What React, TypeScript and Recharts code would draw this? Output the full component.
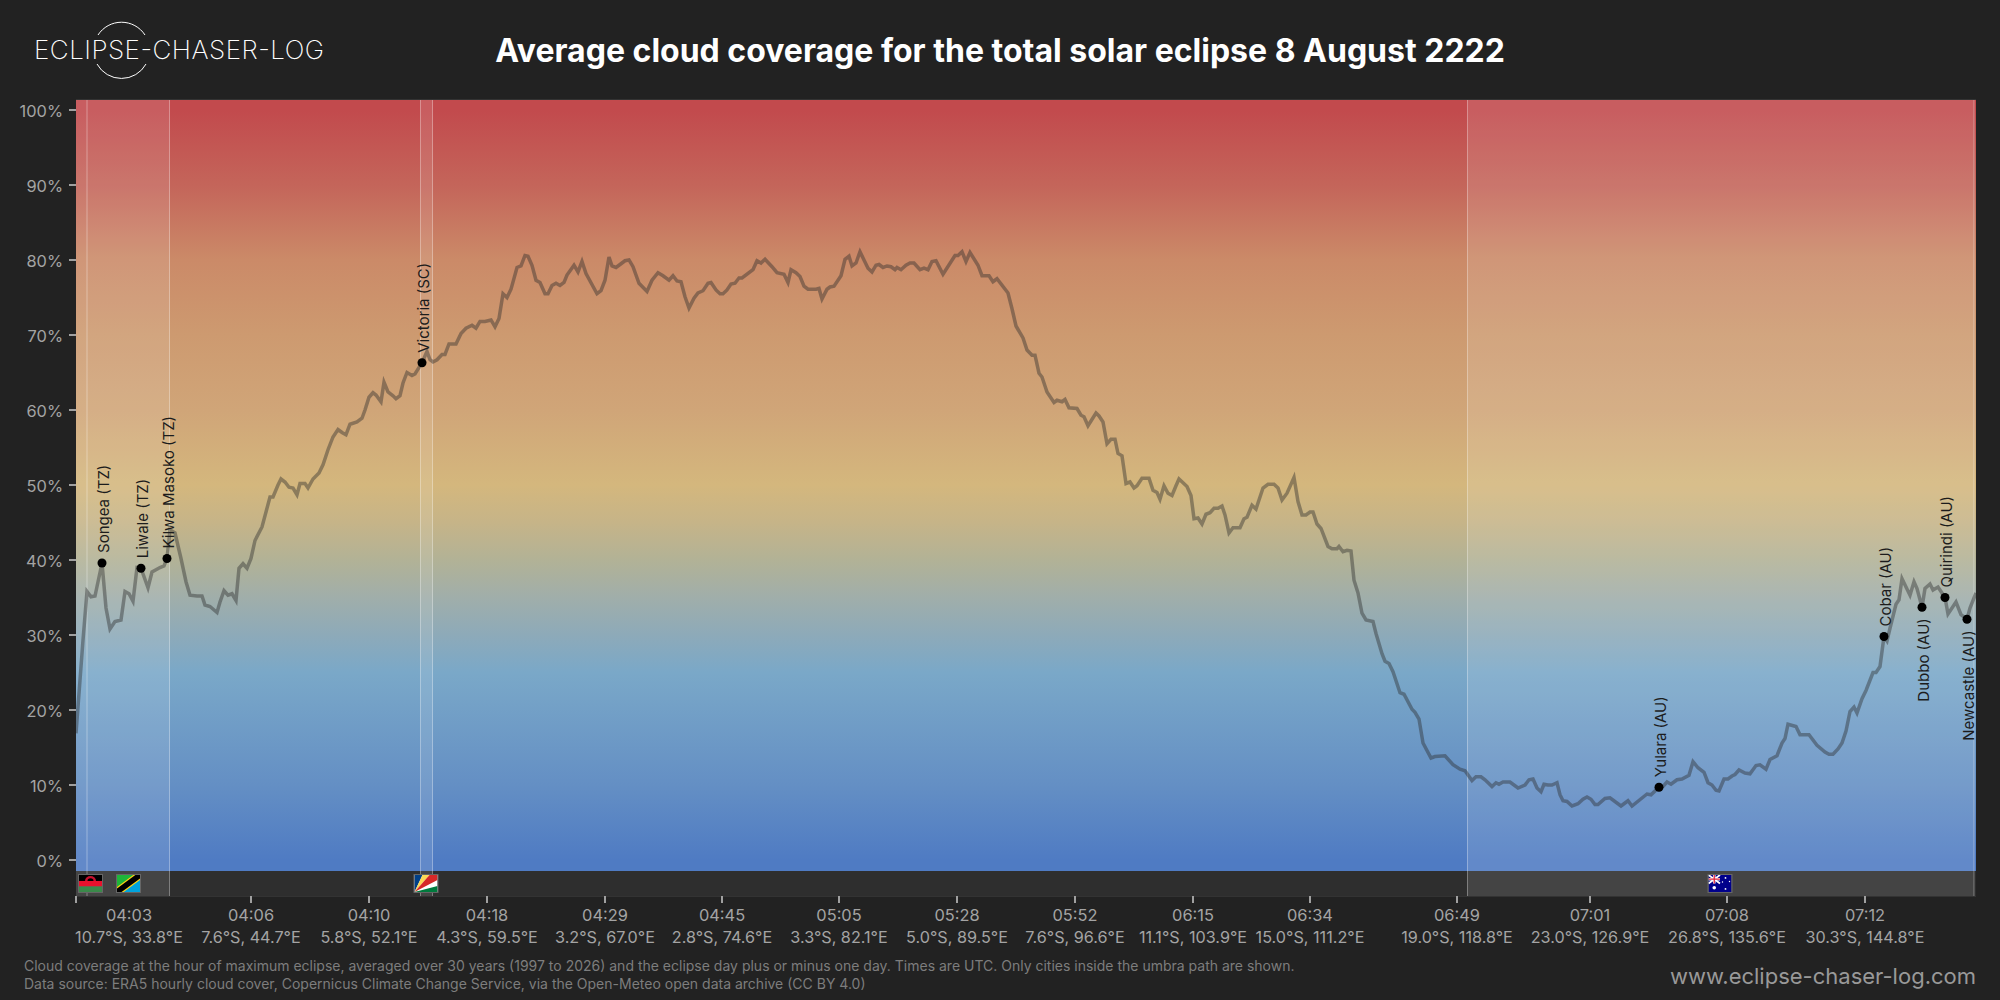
import React from "react";
import {
  CartesianGrid,
  ComposedChart,
  Line,
  ReferenceArea,
  ReferenceDot,
  ReferenceLine,
  Scatter,
  XAxis,
  YAxis,
} from "recharts";

const FONT = "Inter, 'Noto Sans', sans-serif";

// position along the eclipse track (arbitrary units, 0 = start of the plot)
const trackPos = [
  0, 7, 11, 15, 19, 26, 30, 34, 39, 45, 49, 53, 57, 61, 65, 72, 76, 80, 84, 88, 91, 94, 99, 105, 110, 114, 121, 126, 129, 134,
  141, 144, 148, 152, 156, 160, 163, 167, 171, 175, 179, 186, 194, 197, 202, 205, 209, 213, 217, 221, 224, 229, 232, 237, 243, 247, 252, 257, 262, 266,
  270, 274, 281, 286, 289, 293, 297, 300, 305, 308, 312, 317, 320, 324, 327, 331, 336, 339, 346, 351, 354, 357, 361, 366, 369, 373, 380, 385, 390, 396,
  400, 404, 409, 415, 419, 423, 427, 431, 435, 441, 445, 449, 452, 456, 460, 464, 469, 472, 476, 480, 484, 488, 491, 498, 502, 506, 510, 521, 525, 529,
  533, 536, 540, 545, 549, 553, 557, 563, 571, 576, 582, 587, 593, 597, 601, 605, 609, 613, 618, 622, 627, 632, 635, 640, 644, 647, 651, 655, 659, 663,
  666, 677, 681, 685, 689, 696, 701, 708, 712, 715, 720, 724, 728, 732, 740, 743, 746, 751, 754, 758, 765, 769, 773, 776, 780, 784, 788, 792, 796, 800,
  803, 807, 811, 815, 819, 821, 825, 830, 834, 838, 844, 848, 852, 856, 860, 867, 879, 882, 886, 890, 894, 902, 906, 913, 917, 921, 932, 936, 940, 947,
  951, 956, 959, 963, 966, 971, 978, 981, 986, 989, 993, 1001, 1005, 1008, 1012, 1020, 1023, 1027, 1031, 1035, 1039, 1042, 1046, 1050, 1054, 1058, 1061, 1066, 1073, 1077,
  1081, 1084, 1088, 1092, 1096, 1100, 1103, 1111, 1115, 1118, 1122, 1126, 1130, 1134, 1138, 1142, 1146, 1149, 1153, 1157, 1164, 1168, 1171, 1176, 1180, 1183, 1187, 1192, 1198, 1202,
  1206, 1211, 1218, 1222, 1226, 1230, 1234, 1237, 1241, 1245, 1252, 1256, 1261, 1263, 1267, 1271, 1275, 1278, 1282, 1286, 1290, 1297, 1300, 1306, 1309, 1313, 1317, 1324, 1328, 1336,
  1339, 1343, 1347, 1355, 1359, 1369, 1377, 1384, 1389, 1396, 1400, 1405, 1409, 1416, 1420, 1423, 1427, 1434, 1442, 1449, 1453, 1457, 1461, 1465, 1468, 1472, 1476, 1481, 1484, 1487,
  1491, 1496, 1502, 1507, 1511, 1515, 1519, 1522, 1529, 1534, 1545, 1552, 1556, 1571, 1575, 1583, 1587, 1591, 1595, 1601, 1606, 1613, 1617, 1622, 1628, 1632, 1636, 1640, 1643, 1648,
  1652, 1656, 1659, 1663, 1669, 1674, 1680, 1684, 1690, 1694, 1701, 1706, 1709, 1712, 1720, 1724, 1733, 1741, 1749, 1753, 1757, 1762, 1766, 1770, 1774, 1778, 1781, 1786, 1790, 1797,
  1800, 1804, 1808, 1811, 1814, 1820, 1823, 1826, 1834, 1838, 1841, 1846, 1849, 1854, 1857, 1862, 1869, 1872, 1880, 1885, 1891, 1894, 1900,
];

const cloudCover = [
  16.9, 29.3, 35.8, 35.1, 35.2, 39.6, 33.6, 30.8, 31.8, 32, 35.8, 35.5, 34.5, 39, 38.9, 36.3, 38.4, 38.7, 39, 39.2, 40.2, 44, 43.6, 40.2, 37.1, 35.3, 35.2, 35.2, 34, 33.8,
  33, 34.4, 35.9, 35.3, 35.5, 34.6, 38.9, 39.5, 38.9, 40.2, 42.6, 44.4, 48.4, 48.4, 50, 50.8, 50.4, 49.7, 49.6, 48.7, 50.2, 50.2, 49.6, 50.8, 51.6, 52.7, 54.7, 56.4, 57.4, 57,
  56.7, 58.1, 58.4, 58.9, 60, 61.7, 62.3, 62, 61.1, 63.7, 62.4, 61.9, 61.5, 61.9, 63.6, 65, 64.6, 64.8, 66.3, 67.8, 66.7, 66.4, 66.7, 67.4, 67.4, 68.8, 68.8, 70.2, 70.9, 71.3,
  70.9, 71.8, 71.8, 72, 71.1, 72.2, 75.5, 75, 76.1, 79, 79.2, 80.6, 80.5, 79.3, 77.3, 77, 75.5, 75.5, 76.6, 76.9, 76.6, 77, 78, 79.3, 78.4, 79.8, 78.2, 75.5, 75.9, 77.3,
  80.4, 79.2, 79, 79.5, 79.9, 80, 79.1, 76.9, 75.8, 77.3, 78.3, 77.9, 77.3, 77.9, 77.2, 77.1, 75.1, 73.6, 74.9, 75.6, 75.9, 76.9, 77, 76, 75.5, 75.5, 76, 76.8, 76.9, 77.6,
  77.6, 78.7, 79.9, 79.6, 80.1, 79.1, 78.3, 78.1, 77, 78.7, 78.3, 77.8, 76.5, 76.1, 76.1, 76.2, 74.8, 76.1, 76.4, 76.5, 77.9, 80.1, 80.5, 79.2, 79.6, 81.1, 80, 78.9, 78.4, 79.3,
  79.4, 79, 79.2, 79.1, 78.7, 79, 78.7, 79.3, 79.6, 79.6, 78.7, 78.9, 78.7, 79.8, 79.9, 78.1, 80.6, 80.6, 81.1, 79.8, 81, 79.3, 77.9, 77.9, 77.1, 77.5, 75.6, 73.5, 71.2, 69.6,
  68, 67.3, 67.3, 64.9, 64.4, 62.4, 61, 61.3, 61.1, 61.4, 60.3, 60.2, 59.3, 59.1, 57.9, 59.6, 59.2, 58.4, 55.5, 56.1, 56.1, 54.2, 53.9, 50.2, 50.4, 49.6, 49.9, 50.9, 50.9, 49.3,
  49, 48.1, 49.9, 48.9, 48.6, 49.9, 50.8, 49.8, 48.6, 45.5, 45.6, 44.8, 46.1, 46.3, 46.9, 46.9, 47.2, 46, 43.6, 44.3, 44.3, 45.5, 45.7, 47.3, 46.8, 48, 49.6, 50.1, 50.1, 49.6,
  48, 48.9, 51, 47.8, 46, 46, 46.4, 46.4, 44.8, 44.2, 41.8, 41.5, 41.5, 41.8, 41.1, 41.3, 41.2, 37.3, 35.6, 32.9, 32, 31.8, 30.2, 27.5, 26.5, 26.2, 25.1, 22.3, 22.1, 20.1,
  19.7, 18.8, 15.6, 13.6, 13.8, 13.9, 12.7, 12.1, 11.9, 10.6, 11.1, 11.1, 10.7, 9.8, 10.3, 10.1, 10.4, 10.4, 9.6, 10, 10.7, 10.8, 9.6, 9.1, 10.1, 10, 10, 10.3, 8.7, 7.9,
  7.8, 7.2, 7.5, 8.1, 8.4, 8.1, 7.4, 7.4, 8.2, 8.3, 7.2, 7.9, 7.2, 8.8, 8.7, 9.7, 9.8, 10.4, 10.1, 10.7, 10.8, 11.3, 13.1, 12.3, 11.7, 10.3, 10, 9.3, 9.2, 10.8,
  10.8, 11.2, 11.4, 12, 11.6, 11.5, 12.6, 12.7, 12.1, 13.4, 13.9, 15.6, 16.2, 18.1, 17.8, 16.7, 16.7, 15.3, 14.4, 14.1, 14.1, 14.8, 15.6, 17.2, 19.8, 20.4, 19.6, 21.5, 22.6, 25,
  25, 25.8, 29.8, 29.2, 30.9, 34.1, 34.7, 37.5, 35.3, 37.1, 36.2, 33.7, 36.2, 36.8, 36, 36.4, 35, 32.8, 34.4, 32.7, 32.1, 33.6, 35.6,
];

const cityNames = ["Songea (TZ)", "Liwale (TZ)", "Kilwa Masoko (TZ)", "Victoria (SC)", "Yulara (AU)", "Cobar (AU)", "Dubbo (AU)", "Quirindi (AU)", "Newcastle (AU)"];
const cityPos = [26, 65, 91, 346, 1583, 1808, 1846, 1869, 1891];
const cityCover = [39.6, 38.9, 40.2, 66.3, 9.7, 29.8, 33.7, 35, 32.1];
const citiesLabelledBelow = ["Dubbo (AU)", "Newcastle (AU)"];

const tickPos = [0, 175, 293, 411, 529, 646, 763, 881, 999, 1117, 1234, 1381, 1514, 1651, 1789];
const tickTimes = ["04:03", "04:06", "04:10", "04:18", "04:29", "04:45", "05:05", "05:28", "05:52", "06:15", "06:34", "06:49", "07:01", "07:08", "07:12"];
const tickCoords = [
  "10.7°S, 33.8°E", "7.6°S, 44.7°E", "5.8°S, 52.1°E", "4.3°S, 59.5°E", "3.2°S, 67.0°E", "2.8°S, 74.6°E", "3.3°S, 82.1°E", "5.0°S, 89.5°E",
  "7.6°S, 96.6°E", "11.1°S, 103.9°E", "15.0°S, 111.2°E", "19.0°S, 118.8°E", "23.0°S, 126.9°E", "26.8°S, 135.6°E", "30.3°S, 144.8°E",
];
const yTicks = [0, 10, 20, 30, 40, 50, 60, 70, 80, 90, 100];

const landFrom = [0, 344.5, 1391.5];
const landTo = [93.5, 356.5, 1898];
const borderLines = [11, 93.5, 344.5, 356.5, 1391.5, 1898];
const flagCodes = ["MW", "TZ", "SC", "AU"];
const flagPos = [14.5, 52.5, 350, 1644];

const coverStops: [number, string][] = [
  [100, "#c24a4d"],
  [90, "#c4655a"],
  [80, "#cb8a68"],
  [70, "#cd9a70"],
  [60, "#d0a578"],
  [50, "#d4b77d"],
  [45, "#c6b488"],
  [40, "#b2b296"],
  [35, "#a0aeaa"],
  [30, "#8daab9"],
  [25, "#7aa8c8"],
  [10, "#648fc4"],
  [0, "#4f7bc3"],
];

const Y_TOP = 101.33;
const Y_PLOT_BOTTOM = -1.47;
const Y_BAND_BOTTOM = -4.8;

const lineData = trackPos.map((x, i) => ({ x, v: cloudCover[i] }));
const cityData = cityNames.map((name, i) => ({ name, x: cityPos[i], v: cityCover[i] }));

function Flag({ cx, cy, code }: any) {
  const w = 23;
  const h = 17;
  const x = cx - w / 2;
  const y = cy - h / 2;
  const clip = `flag-${code}`;
  return (
    <g>
      <rect x={x - 1} y={y - 1} width={w + 2} height={h + 2} fill="#666" />
      <clipPath id={clip}>
        <rect x={x} y={y} width={w} height={h} />
      </clipPath>
      <g clipPath={`url(#${clip})`}>
        {code === "MW" && (
          <>
            <rect x={x} y={y} width={w} height={6} fill="#000" />
            <rect x={x} y={y + 6} width={w} height={5.5} fill="#e8112d" />
            <rect x={x} y={y + 11.5} width={w} height={5.5} fill="#3a8a4a" />
            <path d={`M${x + 6} ${y + 6}a5.5 5 0 0 1 11 0z`} fill="#c8102e" />
            <path d={`M${x + 8.5} ${y + 6}a3 2.6 0 0 1 6 0z`} fill="#000" />
          </>
        )}
        {code === "TZ" && (
          <>
            <rect x={x} y={y} width={w} height={h} fill="#1eb53a" />
            <path d={`M${x + w} ${y}V${y + h}H${x}z`} fill="#00a3dd" />
            <path d={`M${x} ${y + h}L${x + w} ${y}`} stroke="#fcd116" strokeWidth={8} />
            <path d={`M${x} ${y + h}L${x + w} ${y}`} stroke="#000" strokeWidth={5.5} />
          </>
        )}
        {code === "SC" && (
          <>
            <rect x={x} y={y} width={w} height={h} fill="#fff" />
            <path d={`M${x} ${y + h}V${y}H${x + 8}z`} fill="#003f87" />
            <path d={`M${x} ${y + h}L${x + 8} ${y}H${x + 15}z`} fill="#fcd856" />
            <path d={`M${x} ${y + h}L${x + 15} ${y}H${x + w}V${y + 5}z`} fill="#d62828" />
            <path d={`M${x} ${y + h}H${x + w}V${y + 11}z`} fill="#007a3d" />
          </>
        )}
        {code === "AU" && (
          <>
            <rect x={x} y={y} width={w} height={h} fill="#00008b" />
            <path d={`M${x} ${y}L${x + 11.5} ${y + 8.5}M${x + 11.5} ${y}L${x} ${y + 8.5}`} stroke="#fff" strokeWidth={1.8} />
            <path d={`M${x + 5.75} ${y}V${y + 8.5}M${x} ${y + 4.25}H${x + 11.5}`} stroke="#fff" strokeWidth={2.6} />
            <path d={`M${x + 5.75} ${y}V${y + 8.5}M${x} ${y + 4.25}H${x + 11.5}`} stroke="#e0243c" strokeWidth={1.3} />
            <circle cx={x + 5.75} cy={y + 12.8} r={1.8} fill="#fff" />
            <circle cx={x + 17} cy={y + 3} r={0.9} fill="#fff" />
            <circle cx={x + 14} cy={y + 7} r={0.7} fill="#fff" />
            <circle cx={x + 21} cy={y + 6.5} r={0.7} fill="#fff" />
            <circle cx={x + 17} cy={y + 14} r={0.9} fill="#fff" />
          </>
        )}
      </g>
    </g>
  );
}

function CityMarker({ cx, cy, payload }: any) {
  const below = citiesLabelledBelow.includes(payload.name);
  const ty = below ? cy + 11 : cy - 10;
  return (
    <g>
      <circle cx={cx} cy={cy} r={4.5} fill="#000" />
      <text
        x={cx + 7}
        y={ty}
        transform={`rotate(-90 ${cx + 7} ${ty})`}
        textAnchor={below ? "end" : "start"}
        fontFamily={FONT}
        fontSize={15}
        fill="#1c1c1c"
      >
        {payload.name}
      </text>
    </g>
  );
}

function TrackTick({ x, y, payload, index }: any) {
  // the first label is pushed right so it does not run past the plot edge
  const cx = index === 0 ? x + 53 : x;
  return (
    <g fontFamily={FONT} fill="#a4a4a4" textAnchor="middle">
      <text x={cx} y={y + 16} fontSize={16.4}>
        {tickTimes[tickPos.indexOf(payload.value)]}
      </text>
      <text x={cx} y={y + 38} fontSize={16.2}>
        {tickCoords[tickPos.indexOf(payload.value)]}
      </text>
    </g>
  );
}

export default function App() {
  return (
    <div style={{ position: "absolute", left: 0, top: 0, width: 2000, height: 1000, background: "#222222", overflow: "hidden", fontFamily: FONT }}>
      <svg width={640} height={100} style={{ position: "absolute", left: 0, top: 0 }}>
        <path d="M98 35A28 28 0 0 1 145 35M97 64A28 28 0 0 0 146 64" fill="none" stroke="#fff" strokeWidth={1} />
        <text x={34} y={59} fontFamily={FONT} fontSize={26} fontWeight={200} fill="#fff" textLength={290}>
          ECLIPSE-CHASER-LOG
        </text>
      </svg>
      <div style={{ position: "absolute", left: 0, width: 2000, top: 29, textAlign: "center", color: "#fff", fontSize: 32, fontWeight: 700, lineHeight: "44px" }}>
        Average cloud coverage for the total solar eclipse 8 August 2222
      </div>
      <div style={{ position: "absolute", left: 0, top: 0 }}>
        <ComposedChart width={2000} height={1000} margin={{ top: 100, right: 24, bottom: 44, left: 0 }}>
          <defs>
            <linearGradient id="coverFill" x1="0" y1="0" x2="0" y2="1">
              {coverStops.map(([v, c]) => (
                <stop key={v} offset={(Y_TOP - v) / (Y_TOP - Y_PLOT_BOTTOM)} stopColor={c} />
              ))}
            </linearGradient>
          </defs>
          <XAxis
            dataKey="x"
            type="number"
            domain={[0, 1900]}
            ticks={tickPos}
            interval={0}
            height={60}
            tick={<TrackTick />}
            tickSize={7}
            tickLine={{ stroke: "#a0a0a0", strokeWidth: 2 }}
            axisLine={false}
            allowDataOverflow
          />
          <YAxis
            dataKey="v"
            type="number"
            domain={[Y_BAND_BOTTOM, Y_TOP]}
            ticks={yTicks}
            interval={0}
            width={76}
            tick={{ fontSize: 16.4, fill: "#a4a4a4", fontFamily: FONT, dy: 1 }}
            tickFormatter={(v) => `${v}%`}
            tickSize={7}
            tickMargin={6}
            tickLine={{ stroke: "#a0a0a0", strokeWidth: 2 }}
            axisLine={false}
            allowDataOverflow
          />
          <ReferenceArea y1={Y_PLOT_BOTTOM} y2={Y_TOP} fill="url(#coverFill)" fillOpacity={1} stroke="none" />
          <ReferenceArea y1={Y_BAND_BOTTOM} y2={Y_PLOT_BOTTOM} fill="#2e2e2e" fillOpacity={1} stroke="none" />
          {landFrom.map((from, i) => (
            <ReferenceArea key={from} x1={from} x2={landTo[i]} fill="#fff" fillOpacity={0.11} stroke="none" />
          ))}
          <CartesianGrid vertical={false} stroke="#fff" strokeOpacity={0.16} />
          {borderLines.map((x) => (
            <ReferenceLine key={x} x={x} stroke="#fff" strokeOpacity={0.35} />
          ))}
          {flagCodes.map((code, i) => (
            <ReferenceDot key={code} x={flagPos[i]} y={-3.13} r={1} shape={(p: any) => <Flag cx={p.cx} cy={p.cy} code={code} />} />
          ))}
          <Line data={lineData} dataKey="v" type="linear" stroke="#2c2c2c" strokeOpacity={0.42} strokeWidth={3.5} dot={false} activeDot={false} isAnimationActive={false} />
          <Scatter data={cityData} dataKey="v" shape={<CityMarker />} isAnimationActive={false} />
        </ComposedChart>
      </div>
      <div style={{ position: "absolute", left: 24, top: 957, color: "#7d7d7d", fontSize: 14, lineHeight: "18px", whiteSpace: "nowrap" }}>
        Cloud coverage at the hour of maximum eclipse, averaged over 30 years (1997 to 2026) and the eclipse day plus or minus one day. Times are UTC. Only cities inside the umbra path are shown.
        <br />
        Data source: ERA5 hourly cloud cover, Copernicus Climate Change Service, via the Open-Meteo open data archive (CC BY 4.0)
      </div>
      <div style={{ position: "absolute", right: 24, top: 962, color: "#999", fontSize: 22, lineHeight: "28px" }}>www.eclipse-chaser-log.com</div>
    </div>
  );
}
